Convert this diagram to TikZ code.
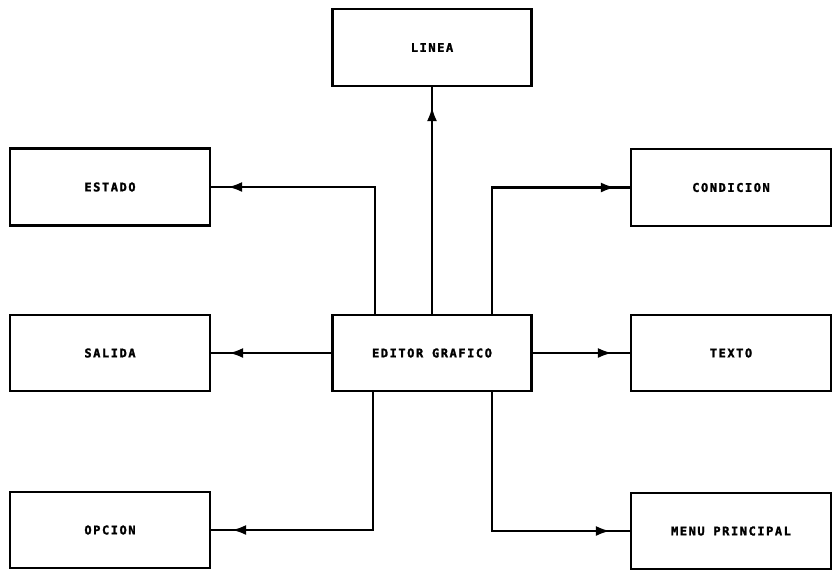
\documentclass[tikz,border=0pt]{standalone}
\usepackage{fontspec}
\newfontfamily\plotfont[LetterSpace=13, BoldFeatures={FakeBold=2}]{DejaVu Sans Mono}
\usetikzlibrary{arrows.meta,decorations.markings,calc}

\tikzset{
  block/.style={draw, line width=2.2pt, minimum width=200pt, minimum height=77pt,
    inner sep=0pt, font=\plotfont\bfseries\fontsize{12}{14}\selectfont},
  conn/.style={line width=2.1pt, postaction={decorate},
    decoration={markings, mark=at position -#1 with {\arrow{Latex[length=14pt,width=10pt]}}}},
  conn/.default=19pt
}

\begin{document}
\begin{tikzpicture}[x=1pt, y=-1pt]
  \fill[white] (0,0) rectangle (833,576);
  \useasboundingbox (0,0) rectangle (833,576);

  % central module
  \node[block, minimum width=199pt, minimum height=76pt] (ed) at (432,353) {EDITOR GRAFICO};

  % surrounding modules
  \node[block, minimum width=199pt] (linea) at (432,47.5) {LINEA};
  \node[block] (estado) at (110,187) {ESTADO};
  \node[block, minimum height=76pt] (salida) at (110,353) {SALIDA};
  \node[block, minimum height=76pt] (opcion) at (110,530) {OPCION};
  \node[block] (condicion) at (731,187.5) {CONDICION};
  \node[block, minimum height=76pt] (texto) at (731,353) {TEXTO};
  \node[block, minimum height=76pt] (menu) at (731,531) {MENU PRINCIPAL};

  % connectors leaving the editor
  \draw[conn=20pt] (ed.north) -- (linea.south);
  \draw[conn=17pt] ($(ed.north west)!0.215!(ed.north east)$) |- (estado.east);
  \draw[conn=15pt] ($(ed.north west)!0.8!(ed.north east)$) |- (condicion.west);
  \draw[conn=18pt] (ed.west) -- (salida.east);
  \draw[conn=18pt] (ed.east) -- (texto.west);
  \draw[conn=21pt] ($(ed.south west)!0.205!(ed.south east)$) |- (opcion.east);
  \draw[conn=20pt] ($(ed.south west)!0.8!(ed.south east)$) |- (menu.west);
\end{tikzpicture}
\end{document}
